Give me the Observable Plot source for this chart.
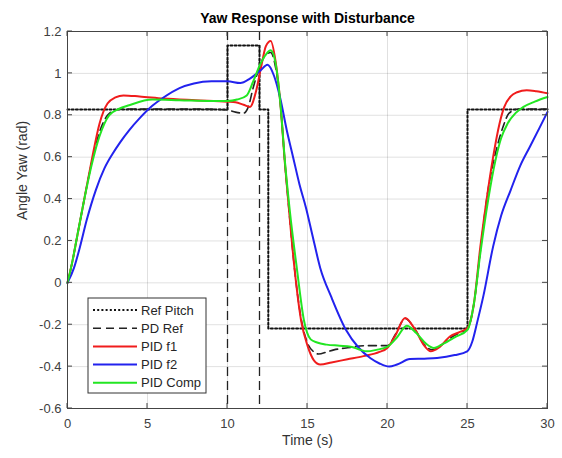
<!DOCTYPE html>
<html><head><meta charset="utf-8">
<script src="https://cdn.jsdelivr.net/npm/d3@7"></script>
<script src="https://cdn.jsdelivr.net/npm/@observablehq/plot@0.6"></script>
<style>body{margin:0;background:#fff;} #chart{width:562px;height:458px;}</style>
</head><body><div id="chart"></div><script>
// ---- data ----
const chartTitle = "Yaw Response with Disturbance";
const xLabel = "Time (s)";
const yLabel = "Angle Yaw (rad)";
const xTicks = [0, 5, 10, 15, 20, 25, 30];
const yTicks = [-0.6, -0.4, -0.2, 0, 0.2, 0.4, 0.6, 0.8, 1, 1.2];
const seriesNames = ["Ref Pitch", "PD Ref", "PID f1", "PID f2", "PID Comp"];
const disturbT = [10, 12];

const refT = [0, 10, 10, 12, 12, 12.55, 12.55, 25, 25, 30];
const refV = [0.828, 0.828, 1.133, 1.133, 0.828, 0.828, -0.218, -0.218, 0.828, 0.828];

const pdT = [0,0.3,0.6,1.0,1.5,2.0,2.5,3.0,3.5,4.5,6,8,10,10.5,11.0,11.3,11.6,12.0,12.4,12.7,13.0,13.3,13.6,13.9,14.2,14.6,15.0,15.4,15.7,16.2,16.65,17.5,18.7,19.5,20.0,20.5,21.1,21.7,22.3,22.8,23.3,24.0,24.6,25.0,25.4,25.8,26.2,26.85,27.2,27.6,28.2,28.8,30];
const pdV = [0,0.10,0.22,0.38,0.57,0.72,0.80,0.825,0.83,0.83,0.83,0.83,0.825,0.815,0.81,0.84,0.93,1.03,1.09,1.10,1.03,0.86,0.56,0.30,0.06,-0.17,-0.287,-0.33,-0.34,-0.33,-0.32,-0.31,-0.30,-0.30,-0.30,-0.245,-0.17,-0.22,-0.295,-0.32,-0.30,-0.26,-0.235,-0.22,-0.10,0.15,0.40,0.65,0.74,0.81,0.83,0.83,0.83];

const f1T = [0,0.3,0.6,1.0,1.5,2.0,2.5,3.0,3.5,4.5,6,8,10,10.5,11,11.4,11.8,12.1,12.4,12.7,13.0,13.3,13.6,13.9,14.2,14.6,15.0,15.4,15.8,16.5,17.5,18.5,19.5,20.0,20.5,21.1,21.7,22.3,22.7,23.2,23.9,24.5,25.0,25.4,25.8,26.2,26.6,27.0,27.3,27.7,28.1,28.7,29.3,30];
const f1V = [0,0.10,0.22,0.38,0.58,0.76,0.856,0.885,0.895,0.89,0.88,0.872,0.865,0.862,0.85,0.84,0.92,1.03,1.13,1.155,1.06,0.86,0.56,0.30,0.06,-0.18,-0.30,-0.37,-0.39,-0.38,-0.365,-0.35,-0.33,-0.31,-0.25,-0.168,-0.22,-0.30,-0.327,-0.31,-0.256,-0.235,-0.216,-0.10,0.17,0.40,0.60,0.76,0.84,0.89,0.91,0.92,0.915,0.905];

const f2T = [0,0.4,0.73,1.2,1.77,2.3,2.81,3.3,3.85,4.5,5.3,6,7,7.9,9,10,10.8,11.4,12.06,12.5,12.9,13.3,13.7,14.1,14.5,14.9,15.3,15.8,16.5,17.4,18.2,18.94,19.5,20.1,20.6,21.4,22.3,23.1,24.2,24.98,25.3,25.6,26.0,26.6,27.1,27.7,28.3,28.9,29.5,30];
const f2V = [0,0.07,0.157,0.30,0.443,0.545,0.615,0.672,0.728,0.785,0.845,0.885,0.93,0.952,0.962,0.962,0.954,0.975,1.014,1.041,0.99,0.88,0.73,0.60,0.47,0.36,0.23,0.07,-0.07,-0.224,-0.31,-0.36,-0.385,-0.40,-0.39,-0.364,-0.362,-0.359,-0.345,-0.327,-0.28,-0.19,-0.06,0.173,0.32,0.443,0.56,0.65,0.74,0.816];

const compT = [0,0.3,0.6,1.0,1.5,2.0,2.6,3.2,3.85,5.3,7,9,10,10.6,11.2,11.6,12.06,12.4,12.7,13.0,13.3,13.6,13.9,14.35,14.77,15.2,15.6,16.2,17.0,17.7,18.3,18.7,19.3,20.0,20.6,21.2,21.8,22.4,22.9,23.5,24.2,25.0,25.4,25.8,26.3,26.75,27.1,27.5,28.0,28.5,29.2,30];
const compV = [0,0.10,0.22,0.38,0.56,0.70,0.80,0.83,0.848,0.875,0.872,0.868,0.868,0.875,0.895,0.96,1.046,1.09,1.11,1.05,0.86,0.57,0.34,0.06,-0.176,-0.27,-0.285,-0.295,-0.30,-0.305,-0.32,-0.327,-0.32,-0.305,-0.26,-0.205,-0.24,-0.29,-0.311,-0.29,-0.26,-0.224,-0.10,0.14,0.40,0.586,0.69,0.76,0.81,0.84,0.865,0.887];

// ---- styles ----
const styles = [
  {stroke:"#111", strokeWidth:2, dash:"2,2.2", curve:"linear"},
  {stroke:"#222", strokeWidth:1.6, dash:"8,5", curve:"monotone-x"},
  {stroke:"#f01c1c", strokeWidth:2, dash:null, curve:"monotone-x"},
  {stroke:"#2222ee", strokeWidth:2, dash:null, curve:"monotone-x"},
  {stroke:"#22e622", strokeWidth:2, dash:null, curve:"monotone-x"}
];
const rows = (t, v) => t.map((x, i) => ({t: x, v: v[i]}));
const datasets = [rows(refT, refV), rows(pdT, pdV), rows(f1T, f1V), rows(f2T, f2V), rows(compT, compV)];
const fmt = d => String(+d.toFixed(1));
const font = "'Liberation Sans', Arial, Helvetica, sans-serif";

const chart = Plot.plot({
  width: 562, height: 458,
  marginTop: 31, marginBottom: 50, marginLeft: 67, marginRight: 15,
  style: {fontFamily: font, fontSize: "13px", color: "#404040", background: "#fff"},
  x: {domain: [0, 30]},
  y: {domain: [-0.6, 1.2]},
  marks: [
    Plot.gridX(xTicks, {stroke: "#000", strokeOpacity: 0.12}),
    Plot.gridY(yTicks, {stroke: "#000", strokeOpacity: 0.12}),
    Plot.ruleX(disturbT, {stroke: "#222", strokeWidth: 1.3, strokeDasharray: "9,5"}),
    ...datasets.map((d, i) => Plot.line(d, {
      x: "t", y: "v", stroke: styles[i].stroke, strokeWidth: styles[i].strokeWidth,
      strokeDasharray: styles[i].dash, curve: styles[i].curve
    })),
    Plot.frame({stroke: "#444"}),
    Plot.axisX(xTicks, {tickSize: 0, tickPadding: 10, tickFormat: d => String(d), label: null, fill: "#404040"}),
    Plot.axisY(yTicks, {tickSize: 0, tickPadding: 6, tickFormat: fmt, label: null, fill: "#404040"}),
    Plot.text([xLabel], {frameAnchor: "bottom", dy: 36, fontSize: 14, fill: "#333"}),
    Plot.text([yLabel], {frameAnchor: "left", dx: -45, rotate: -90, fontSize: 14, fill: "#333"}),
    Plot.text([chartTitle], {frameAnchor: "top", dy: -18, fontSize: 14, fontWeight: "bold", fill: "#000"})
  ]
});

// inward ticks on all four sides, placed with the plot's own scales
const sx = chart.scale("x"), sy = chart.scale("y");
const svg = d3.select(chart);
const xa = sx.apply(0), xb = sx.apply(30), ya = sy.apply(-0.6), yb = sy.apply(1.2);
const tg = svg.append("g").attr("stroke", "#444").attr("stroke-width", 1);
const L = 5;
xTicks.forEach(t => {
  const x = sx.apply(t);
  tg.append("line").attr("x1", x).attr("x2", x).attr("y1", ya).attr("y2", ya - L);
  tg.append("line").attr("x1", x).attr("x2", x).attr("y1", yb).attr("y2", yb + L);
});
yTicks.forEach(v => {
  const y = sy.apply(v);
  tg.append("line").attr("x1", xa).attr("x2", xa + L).attr("y1", y).attr("y2", y);
  tg.append("line").attr("x1", xb).attr("x2", xb - L).attr("y1", y).attr("y2", y);
});

// legend box (lower left)
const lg = svg.append("g").attr("font-family", font).attr("font-size", 13).attr("text-anchor", "start");
const bx = 88, by = 298, bw = 118, bh = 95;
lg.append("rect").attr("x", bx).attr("y", by).attr("width", bw).attr("height", bh)
  .attr("fill", "#fff").attr("stroke", "#333").attr("stroke-width", 1);
seriesNames.forEach((name, i) => {
  const y = by + 12 + i * 18.2;
  lg.append("line").attr("x1", bx + 5).attr("x2", bx + 49).attr("y1", y).attr("y2", y)
    .attr("stroke", styles[i].stroke).attr("stroke-width", styles[i].strokeWidth)
    .attr("stroke-dasharray", styles[i].dash);
  lg.append("text").attr("x", bx + 53).attr("y", y).attr("dy", "0.35em")
    .attr("text-anchor", "start").attr("fill", "#262626").text(name);
});

document.getElementById("chart").appendChild(chart);
</script></body></html>
